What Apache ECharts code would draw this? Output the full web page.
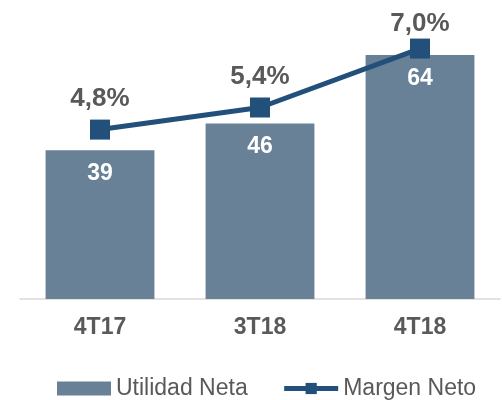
<!DOCTYPE html>
<html>
<head>
<meta charset="utf-8">
<script src="https://cdn.jsdelivr.net/npm/echarts@6/dist/echarts.min.js"></script>
<style>
	html, body { margin: 0; padding: 0; background: #fff; }
	#main { width: 502px; height: 400px; }
</style>
</head>
<body>
<div id="main"></div>
<script>
// datos
var categories = ['4T17', '3T18', '4T18'];
var utilidadNeta = [39, 46, 64];
var margenNeto = [4.8, 5.4, 7.0];

var dom = document.getElementById("main");
var myChart = echarts.init(dom);

// la última etiqueta va un poco más pegada al punto
var margenData = margenNeto.map(function (v, i) {
	return i === margenNeto.length - 1 ? { value: v, label: { distance: 2 } } : v;
});

var option = {
	animation: false,
	textStyle: { fontFamily: 'Liberation Sans, Arial, sans-serif' },
	legend: {
		left: 52,
		top: 372,
		itemWidth: 54,
		itemHeight: 14,
		itemGap: 34,
		lineStyle: { width: 5 },
		textStyle: { fontSize: 23, color: '#595959' },
		data: [{ name: 'Utilidad Neta', icon: 'rect' }, 'Margen Neto']
	},
	grid: { left: 20, right: 2, top: 32, bottom: 101 },
	xAxis: {
		type: 'category',
		data: categories,
		axisLine: { lineStyle: { color: '#d9d9d9', width: 1.5 } },
		axisTick: { show: false },
		axisLabel: { color: '#595959', fontSize: 23, fontWeight: 'bold', margin: 17 }
	},
	yAxis: [
		{ type: 'value', min: 0, max: 70, show: false },
		{ type: 'value', min: 0.2, max: 7.45, show: false }
	],
	series: [
		{
			name: 'Utilidad Neta',
			type: 'bar',
			barWidth: '68%',
			data: utilidadNeta,
			itemStyle: { color: '#688196' },
			label: {
				show: true,
				position: 'insideTop',
				distance: 12,
				color: '#ffffff',
				fontSize: 23,
				fontWeight: 'bold'
			}
		},
		{
			name: 'Margen Neto',
			type: 'line',
			yAxisIndex: 1,
			data: margenData,
			symbol: 'rect',
			symbolSize: 20,
			lineStyle: { color: '#22507a', width: 5 },
			itemStyle: { color: '#22507a' },
			label: {
				show: true,
				position: 'top',
				distance: 8,
				color: '#595959',
				fontSize: 26,
				fontWeight: 'bold',
				formatter: function (p) {
					return p.value.toFixed(1).replace('.', ',') + '%';
				}
			}
		}
	]
};
myChart.setOption(option);
</script>
</body>
</html>
